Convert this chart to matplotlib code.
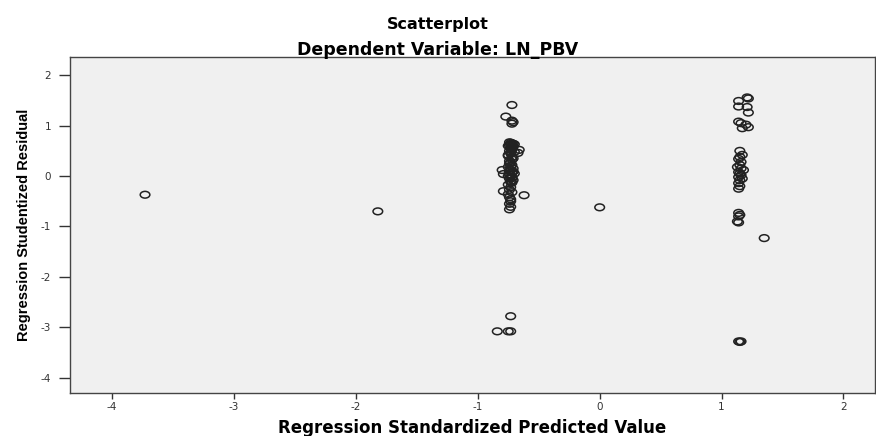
import matplotlib
matplotlib.use("Agg")
import matplotlib.pyplot as plt
from matplotlib.path import Path

plt.rcParams["axes.unicode_minus"] = False

# isolated points
x_iso = [-3.73, -1.82, 0.00, 1.35]
y_iso = [-0.37, -0.70, -0.62, -1.23]

# left cluster (predicted value about -0.73)
x_left = [-0.72, -0.77, -0.72, -0.71, -0.72,
          -0.74, -0.72, -0.70, -0.73, -0.75, -0.71, -0.73, -0.72, -0.74, -0.70,
          -0.73, -0.75, -0.72, -0.71, -0.74, -0.73, -0.72, -0.75, -0.71, -0.73,
          -0.74, -0.72, -0.70, -0.73, -0.75, -0.72, -0.74, -0.71, -0.73, -0.72,
          -0.75, -0.73, -0.74, -0.72, -0.74, -0.73,
          -0.73, -0.71, -0.74, -0.72, -0.73, -0.75, -0.72, -0.74, -0.73, -0.71,
          -0.74, -0.72, -0.73, -0.75, -0.73, -0.74, -0.73, -0.74,
          -0.66, -0.67, -0.80, -0.79, -0.79, -0.62,
          -0.73, -0.84, -0.75, -0.73]
y_left = [1.41, 1.18, 1.10, 1.07, 1.04,
          0.67, 0.65, 0.63, 0.62, 0.60, 0.58, 0.55, 0.52, 0.50, 0.48,
          0.45, 0.42, 0.38, 0.35, 0.30, 0.27, 0.22, 0.18, 0.15, 0.12,
          0.10, 0.07, 0.05, 0.02, 0.00, -0.02, -0.05, -0.08, -0.10, -0.13,
          -0.17, -0.22, -0.27, -0.32, -0.42, -0.50,
          0.66, 0.64, 0.61, 0.57, 0.47, 0.40, 0.33, 0.25, 0.20, 0.09,
          0.03, -0.04, -0.12, -0.36, -0.46, -0.55, -0.61, -0.66,
          0.52, 0.46, 0.12, 0.04, -0.30, -0.38,
          -2.78, -3.08, -3.08, -3.08]

# right cluster (predicted value about 1.15)
x_right = [1.14, 1.21, 1.22, 1.14, 1.21, 1.22, 1.14, 1.16, 1.20, 1.22, 1.17,
           1.15, 1.17, 1.15, 1.14, 1.16, 1.15, 1.13, 1.16, 1.18, 1.14, 1.15,
           1.16, 1.14, 1.17, 1.15, 1.14, 1.15, 1.14,
           1.14, 1.15, 1.14, 1.13, 1.14,
           1.14, 1.16, 1.15]
y_right = [1.49, 1.56, 1.54, 1.38, 1.37, 1.26, 1.08, 1.05, 1.02, 0.97, 0.95,
           0.50, 0.42, 0.38, 0.34, 0.28, 0.22, 0.18, 0.15, 0.12, 0.08, 0.05,
           0.02, -0.02, -0.05, -0.08, -0.14, -0.20, -0.25,
           -0.73, -0.77, -0.80, -0.90, -0.92,
           -3.28, -3.28, -3.29]

xs = x_iso + x_left + x_right
ys = y_iso + y_left + y_right

# SPSS circles come out slightly flattened
circ = Path.unit_circle()
ellipse = Path(circ.vertices * [1.0, 0.7], circ.codes)

fig = plt.figure(figsize=(8.76, 4.36), dpi=100)
ax = fig.add_axes([0.080, 0.099, 0.919, 0.770])
ax.set_facecolor("#f0f0f0")

ax.scatter(xs, ys, marker=ellipse, s=48, facecolors="none",
           edgecolors="#222222", linewidths=1.1)

ax.set_xlim(-4.345, 2.26)
ax.set_ylim(-4.3, 2.36)
ax.set_xticks([-4, -3, -2, -1, 0, 1, 2])
ax.set_yticks([-4, -3, -2, -1, 0, 1, 2])
ax.tick_params(direction="out", width=1, colors="#333333", labelsize=7.5)
ax.tick_params(axis="x", length=4.5, pad=2)
ax.tick_params(axis="y", length=8, pad=5.5)
for s in ax.spines.values():
    s.set_color("#444444")
    s.set_linewidth(1)

ax.set_xlabel("Regression Standardized Predicted Value", fontsize=12,
              fontweight="bold", family="DejaVu Sans", labelpad=5)
ax.set_ylabel("Regression Studentized Residual", fontsize=10.5,
              fontweight="bold", family="Liberation Sans", labelpad=7)

fig.text(0.5, 1 - 25 / 436, "Scatterplot", ha="center", va="center",
         fontsize=11.5, fontweight="bold", family="DejaVu Sans")
fig.text(0.5, 1 - 50 / 436, "Dependent Variable: LN_PBV", ha="center",
         va="center", fontsize=12.5, fontweight="bold", family="DejaVu Sans")

fig.savefig("out.png", dpi=100)
